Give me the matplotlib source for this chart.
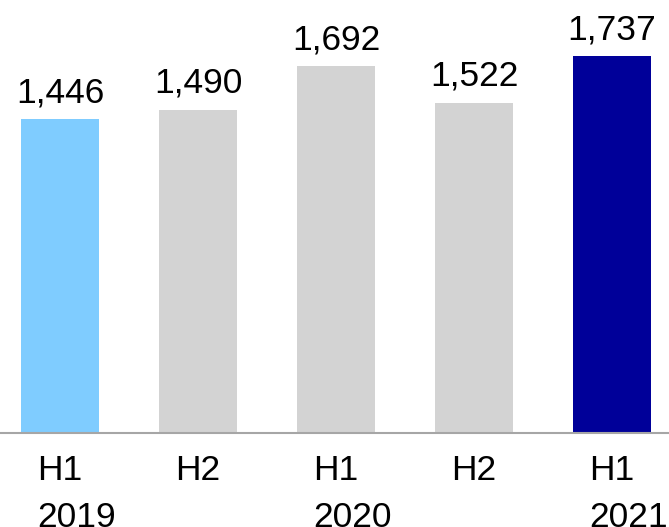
import matplotlib
matplotlib.use("Agg")
import matplotlib.pyplot as plt

# === Données ===
periods = ["H1", "H2", "H1", "H2", "H1"]
years = ["2019", "", "2020", "", "2021"]
values = [1446, 1490, 1692, 1522, 1737]
colors = ["#7FCCFF", "#D3D3D3", "#D3D3D3", "#D3D3D3", "#000099"]

plt.rcParams["font.family"] = ["Liberation Sans", "DejaVu Sans"]
FS = 25.5

fig = plt.figure(figsize=(6.69, 5.27), dpi=100)
ax = fig.add_axes([0, 94 / 527, 1, 433 / 527])

x = list(range(len(values)))
ax.bar(x, values, width=0.56, color=colors)
ax.set_xlim(-0.435, 4.413)
ax.set_ylim(0, 1995)

# étiquettes de valeurs
for xi, v in zip(x, values):
    ax.annotate(f"{v:,}", (xi, v), xytext=(0, 7), textcoords="offset points",
                ha="center", va="bottom", fontsize=FS)

# axe
for side in ["left", "right", "top"]:
    ax.spines[side].set_visible(False)
ax.spines["bottom"].set_color("#A6A6A6")
ax.spines["bottom"].set_linewidth(1.5)
ax.set_yticks([])
ax.set_xticks(x)
ax.set_xticklabels(periods, fontsize=FS)
ax.tick_params(axis="x", length=0, pad=15)

# années alignées à gauche sous H1
for xi, yr in zip(x, years):
    if yr:
        ax.annotate(yr, (xi, 0), xycoords=("data", "axes fraction"),
                    xytext=(-16.3, -49), textcoords="offset points",
                    ha="left", va="top", fontsize=FS, annotation_clip=False)

fig.savefig("out.png", dpi=100)
